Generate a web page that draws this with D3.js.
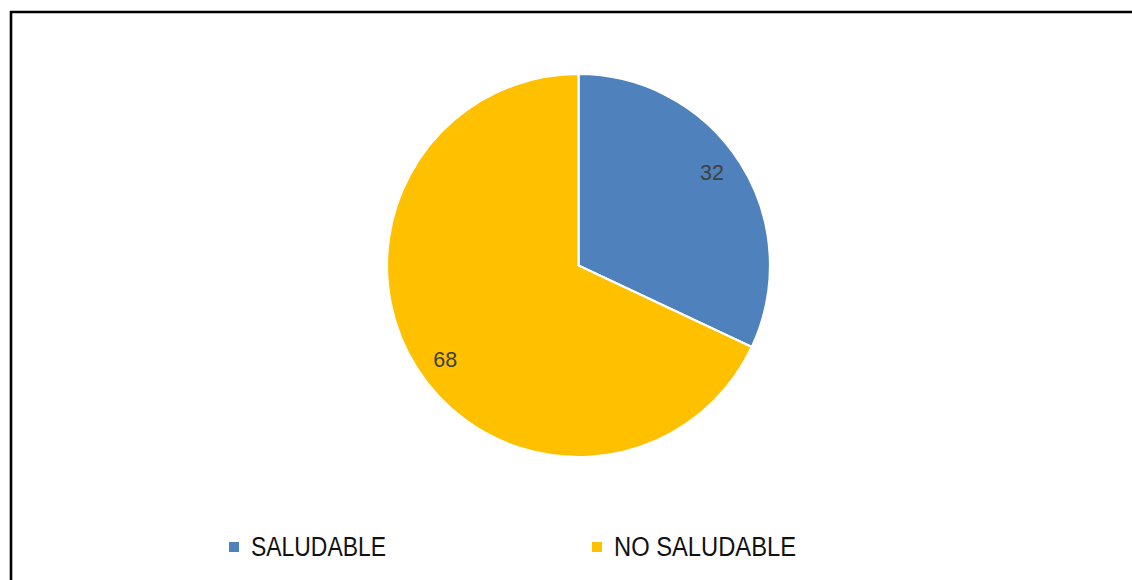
<!DOCTYPE html>
<html>
<head>
<meta charset="utf-8">
<script src="https://cdn.jsdelivr.net/npm/d3@7/dist/d3.min.js"></script>
<style>
  html, body { margin: 0; padding: 0; background: #fff; }
  svg { display: block; }
</style>
</head>
<body>
<svg id="chart" width="1132" height="580"></svg>
<script>
// Chart data
const categories = ["SALUDABLE", "NO SALUDABLE"];
const values = [32, 68];
const colors = ["#4F81BD", "#FFC000"];

const svg = d3.select("#chart");
const W = 1132, H = 580;

// Frame: only the top and left edges fall inside the visible area
svg.append("path")
  .attr("d", `M11,${H + 10} L11,12 L${W + 10},12`)
  .attr("fill", "none")
  .attr("stroke", "#000")
  .attr("stroke-width", 2.6);

// Pie
const cx = 578.5, cy = 265.5, r = 191.5;
const pie = d3.pie().sort(null).value(d => d.value);
const data = categories.map((c, i) => ({ name: c, value: values[i], color: colors[i] }));
const arcs = pie(data);

const arc = d3.arc().innerRadius(0).outerRadius(r);
const labelArc = d3.arc().innerRadius(r * 0.85).outerRadius(r * 0.85);
const labelShift = -0.045; // small counter-clockwise nudge of the value labels

const g = svg.append("g").attr("transform", `translate(${cx},${cy})`);

g.selectAll("path.slice")
  .data(arcs)
  .join("path")
  .attr("class", "slice")
  .attr("d", arc)
  .attr("fill", d => d.data.color)
  .attr("stroke", "#fff")
  .attr("stroke-width", 2.2)
  .attr("stroke-linejoin", "round");

g.selectAll("text.val")
  .data(arcs)
  .join("text")
  .attr("class", "val")
  .attr("transform", d => `translate(${labelArc.centroid({
      startAngle: d.startAngle + labelShift,
      endAngle: d.endAngle + labelShift
    })})`)
  .attr("text-anchor", "middle")
  .attr("dy", "0.36em")
  .attr("font-family", "'Liberation Sans', Arial, sans-serif")
  .attr("font-size", 21.5)
  .attr("fill", "#404040")
  .text(d => d.data.value);

// Legend
const legendX = d3.scaleOrdinal().domain(categories).range([229, 592]);
const legendTextLen = d3.scaleOrdinal().domain(categories).range([135, 182]);
const legendY = 547;

const lg = svg.append("g").selectAll("g")
  .data(data)
  .join("g")
  .attr("transform", d => `translate(${legendX(d.name)},${legendY})`);

lg.append("rect")
  .attr("x", 0).attr("y", -5)
  .attr("width", 10).attr("height", 10)
  .attr("fill", d => d.color);

lg.append("text")
  .attr("x", 22)
  .attr("y", 0)
  .attr("dy", "0.35em")
  .attr("font-family", "'Liberation Sans', Arial, sans-serif")
  .attr("font-size", 27)
  .attr("fill", "#111")
  .attr("textLength", d => legendTextLen(d.name))
  .attr("lengthAdjust", "spacingAndGlyphs")
  .text(d => d.name);
</script>
</body>
</html>
